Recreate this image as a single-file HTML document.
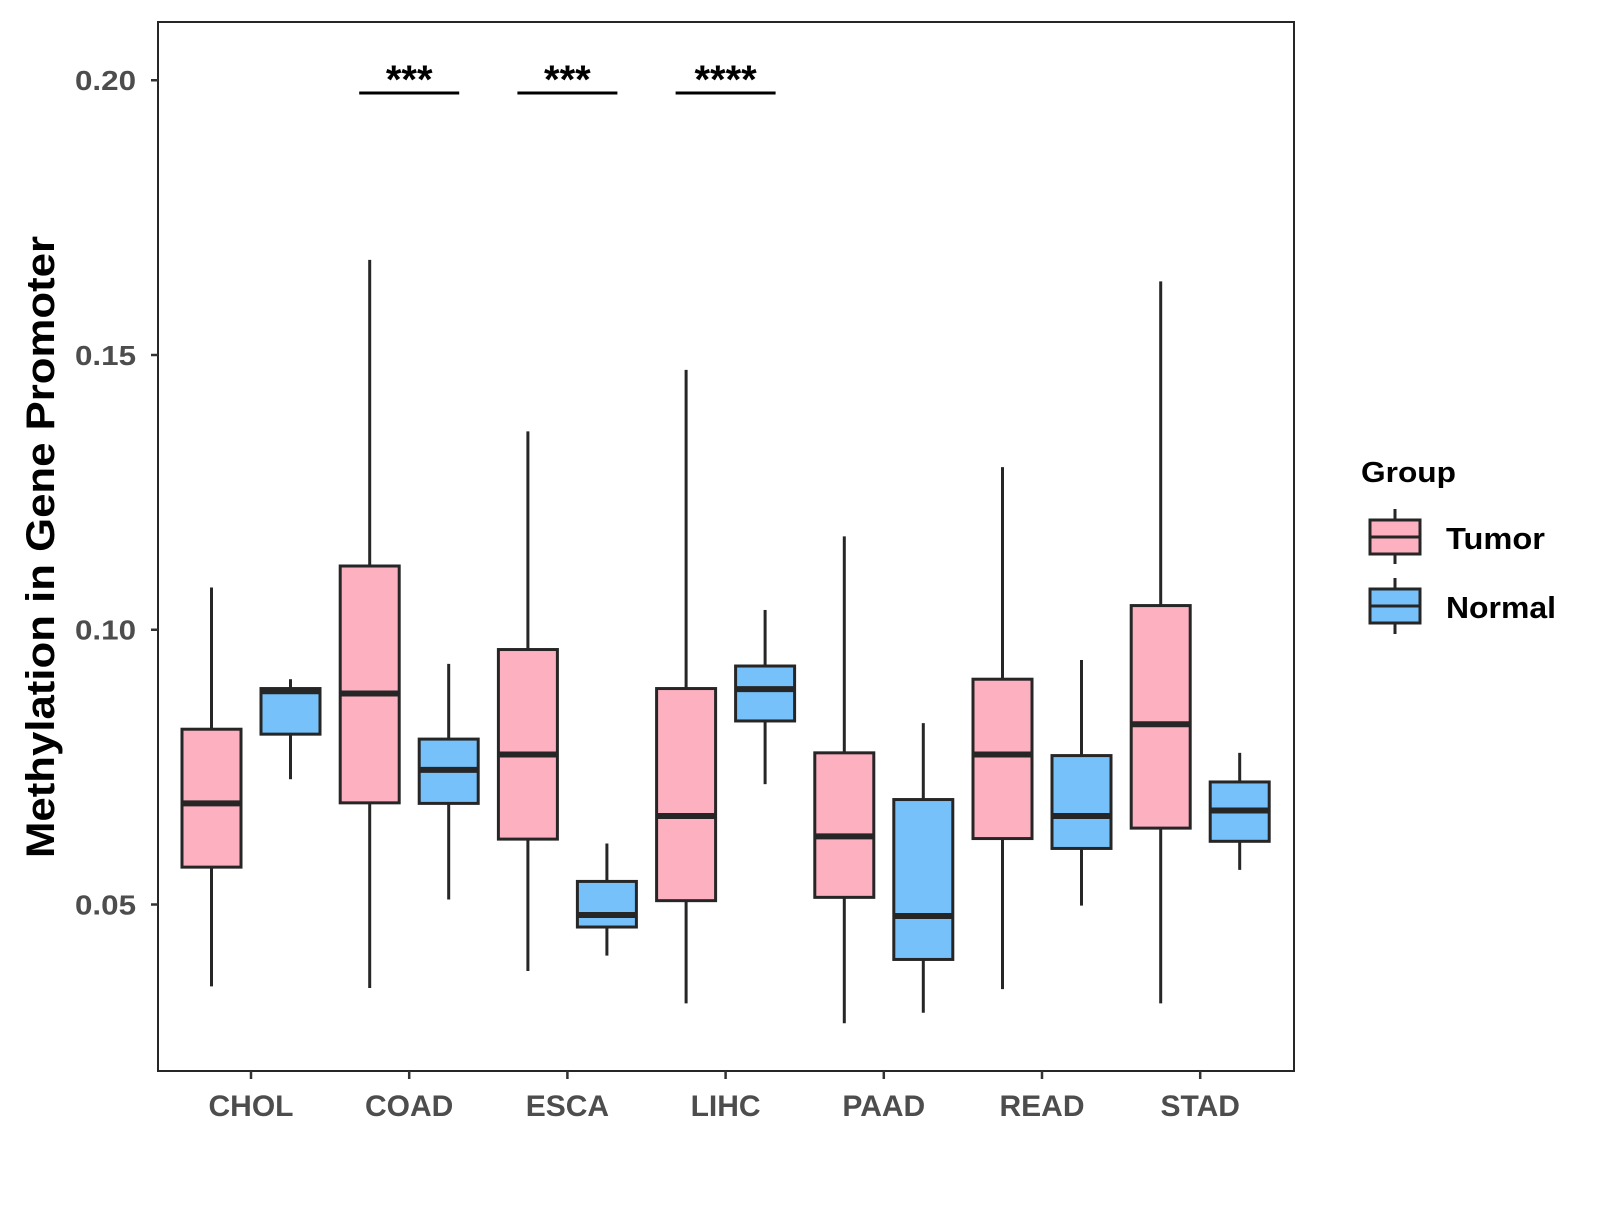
<!DOCTYPE html>
<html><head><meta charset="utf-8"><style>
body{margin:0;background:#fff;}
svg text{font-family:"Liberation Sans",Arial,sans-serif;font-weight:bold;}
</style></head><body>
<svg id="chart" width="1600" height="1200" viewBox="0 0 1600 1200" xmlns="http://www.w3.org/2000/svg">
<rect x="0" y="0" width="1600" height="1200" fill="#fff"/>
<g id="plot"></g>
<text x="0" y="0" transform="translate(54,547) rotate(-90)" text-anchor="middle" font-size="40" textLength="622" lengthAdjust="spacingAndGlyphs" fill="#000">Methylation in Gene Promoter</text>
<g>
<text x="1361" y="482" font-size="29" textLength="95" lengthAdjust="spacingAndGlyphs" fill="#000">Group</text>
<g>
<line x1="1395" y1="509" x2="1395" y2="564" stroke="#262626" stroke-width="3"/>
<rect x="1370" y="520" width="50" height="34" fill="#FDB0C0" stroke="#262626" stroke-width="3"/>
<line x1="1370" y1="537" x2="1420" y2="537" stroke="#262626" stroke-width="3"/>
<text x="1446" y="549" font-size="31" textLength="99" lengthAdjust="spacingAndGlyphs" fill="#000">Tumor</text>
</g>
<g>
<line x1="1395" y1="578" x2="1395" y2="634" stroke="#262626" stroke-width="3"/>
<rect x="1370" y="589" width="50" height="34" fill="#76C1F9" stroke="#262626" stroke-width="3"/>
<line x1="1370" y1="606" x2="1420" y2="606" stroke="#262626" stroke-width="3"/>
<text x="1446" y="618" font-size="31" textLength="110" lengthAdjust="spacingAndGlyphs" fill="#000">Normal</text>
</g>
</g>
</svg>
<script>
const categories=["CHOL","COAD","ESCA","LIHC","PAAD","READ","STAD"];
// [whiskerLow, Q1, median, Q3, whiskerHigh]
const tumorStats=[[0.0351,0.0568,0.0684,0.0819,0.1077],[0.0348,0.0685,0.0884,0.1116,0.1673],[0.0379,0.0619,0.0773,0.0964,0.1361],[0.0320,0.0507,0.0661,0.0893,0.1473],[0.0284,0.0513,0.0624,0.0776,0.1170],[0.0346,0.0620,0.0773,0.0910,0.1296],[0.0320,0.0639,0.0828,0.1044,0.1634]];
const normalStats=[[0.0728,0.0810,0.0888,0.0893,0.0910],[0.0509,0.0684,0.0745,0.0801,0.0938],[0.0407,0.0459,0.0481,0.0542,0.0611],[0.0719,0.0834,0.0892,0.0934,0.1036],[0.0303,0.0400,0.0479,0.0691,0.0830],[0.0498,0.0602,0.0661,0.0771,0.0945],[0.0563,0.0615,0.0671,0.0723,0.0776]];
const yTicks=[0.05,0.10,0.15,0.20];
const yTickLabels=["0.05","0.10","0.15","0.20"];
const sigCategories=["COAD","ESCA","LIHC"];
const sigLabels=["***","***","****"];

const NS="http://www.w3.org/2000/svg";
const L=158,R=1294,T=22,B=1071;
const yMin=0.0197,yMax=0.2106;
function y(v){return B-(v-yMin)/(yMax-yMin)*(B-T);}
function x(i){return 251+i*158.2;}
const g=document.getElementById('plot');
function el(tag,attrs,parent){const e=document.createElementNS(NS,tag);for(const k in attrs)e.setAttribute(k,attrs[k]);(parent||g).appendChild(e);return e;}

const panel=el('rect',{x:L,y:T,width:R-L,height:B-T,fill:'#fff',stroke:'#262626','stroke-width':2});



yTicks.forEach((v,i)=>{
  const t=el('line',{x1:L-7,x2:L,y1:y(v),y2:y(v),stroke:'#333','stroke-width':2.5});
  
  
  const tx=el('text',{x:L-22,y:y(v)+10,'text-anchor':'end','font-size':28,textLength:61,lengthAdjust:'spacingAndGlyphs',fill:'#4d4d4d'});
  tx.textContent=yTickLabels[i];
  
  
});
categories.forEach((c,i)=>{
  const t=el('line',{x1:x(i),x2:x(i),y1:B,y2:B+8,stroke:'#333','stroke-width':2.5});
  
  
  const tx=el('text',{x:x(i),y:1116,'text-anchor':'middle','font-size':30,fill:'#4d4d4d'});
  tx.textContent=c;
  
  
});
function box(cx,s,fill,name){
  const grp=el('g',{});
  
  
  const w=59;
  el('line',{x1:cx,x2:cx,y1:y(s[0]),y2:y(s[1]),stroke:'#262626','stroke-width':3},grp);
  el('line',{x1:cx,x2:cx,y1:y(s[3]),y2:y(s[4]),stroke:'#262626','stroke-width':3},grp);
  el('rect',{x:cx-w/2,y:y(s[3]),width:w,height:y(s[1])-y(s[3]),fill:fill,stroke:'#262626','stroke-width':3},grp);
  el('line',{x1:cx-w/2,x2:cx+w/2,y1:y(s[2]),y2:y(s[2]),stroke:'#262626','stroke-width':6},grp);
}
categories.forEach((c,i)=>{
  box(x(i)-39.5,tumorStats[i],'#FDB0C0','box-tumor-'+c.toLowerCase());
  box(x(i)+39.5,normalStats[i],'#76C1F9','box-normal-'+c.toLowerCase());
});
sigCategories.forEach((c,k)=>{
  const i=categories.indexOf(c);
  const ln=el('line',{x1:x(i)-50,x2:x(i)+50,y1:93,y2:93,stroke:'#000','stroke-width':3});
  
  
  const tx=el('text',{x:x(i),y:93,'text-anchor':'middle','font-size':40,fill:'#000'});
  tx.textContent=sigLabels[k];
  
  
});
</script>
</body></html>
